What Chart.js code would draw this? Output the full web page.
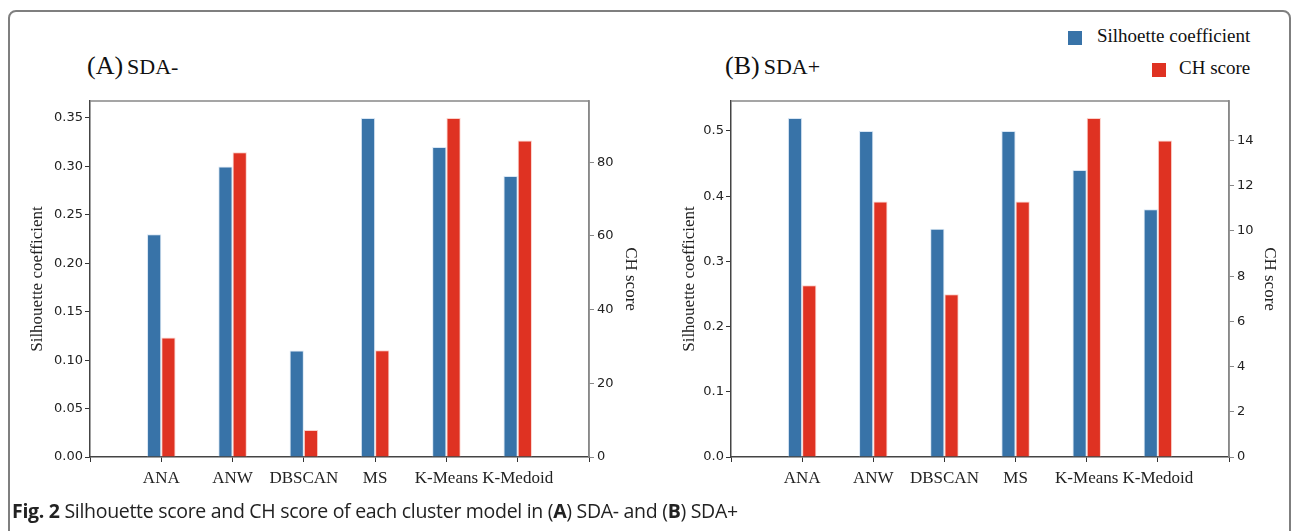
<!DOCTYPE html>
<html>
<head>
<meta charset="utf-8">
<script src="https://cdn.jsdelivr.net/npm/chart.js@4.4.1/dist/chart.umd.min.js"></script>
<style>
  body { margin: 0; width: 1292px; height: 531px; overflow: hidden; background: #fff; position: relative; }
  .frame { position: absolute; left: 8px; top: 10px; width: 1283px; height: 560px; border: 2px solid #7f7f7f; border-radius: 8px; box-sizing: border-box; }
  .wrap { position: absolute; top: 90px; height: 410px; }
  .ptitle { position: absolute; top: 51px; font-family: "Liberation Serif", serif; color: #111; white-space: nowrap; }
  .ptitle .big { font-size: 26px; }
  .ptitle .small { font-size: 22px; }
  .legend { position: absolute; font-family: "Liberation Serif", serif; font-size: 19px; color: #111; white-space: nowrap; }
  .legend i { position: absolute; width: 14px; height: 14px; }
  .caption { position: absolute; left: 12px; top: 497px; font-family: "Open Sans", sans-serif; font-size: 19.5px; color: #222; white-space: nowrap; letter-spacing: -0.3px; }
</style>
</head>
<body>
<div class="frame"></div>

<div class="ptitle" style="left:87px"><span class="big">(A)</span> <span class="small">SDA-</span></div>
<div class="ptitle" style="left:725px"><span class="big">(B)</span> <span class="small">SDA+</span></div>

<div class="legend" style="left:1097px;top:25px"><i style="left:-29px;top:6px;background:#3873a8"></i>Silhoette coefficient</div>
<div class="legend" style="left:1179px;top:57px"><i style="left:-27px;top:6px;background:#df3222"></i>CH score</div>

<div class="wrap" style="left:0;width:660px"><canvas id="chartA"></canvas></div>
<div class="wrap" style="left:640px;width:652px"><canvas id="chartB"></canvas></div>

<div class="caption"><b>Fig. 2</b> Silhouette score and CH score of each cluster model in (<b>A</b>) SDA- and (<b>B</b>) SDA+</div>

<script>
var categories = ['ANA', 'ANW', 'DBSCAN', 'MS', 'K-Means', 'K-Medoid'];

// (A) SDA-
var silA = [0.23, 0.30, 0.11, 0.35, 0.32, 0.29];
var chA = [32.4, 82.7, 7.3, 29.0, 92.0, 85.9];
var silTicksA = [0, 0.05, 0.10, 0.15, 0.20, 0.25, 0.30, 0.35];
var chTicksA = [0, 20, 40, 60, 80];

// (B) SDA+
var silB = [0.52, 0.50, 0.35, 0.50, 0.44, 0.38];
var chB = [7.6, 11.3, 7.2, 11.3, 15.0, 14.0];
var silTicksB = [0, 0.1, 0.2, 0.3, 0.4, 0.5];
var chTicksB = [0, 2, 4, 6, 8, 10, 12, 14];

var BLUE = '#3873a8';
var RED = '#df3222';

// empty slot on each side of the categories, like the original axes
function pad(arr, fill) {
  return [fill].concat(arr, [fill]);
}

// top and right spines of the matplotlib box
var boxPlugin = {
  id: 'box',
  afterDraw: function (chart) {
    var a = chart.chartArea, ctx = chart.ctx;
    ctx.save();
    ctx.strokeStyle = '#888';
    ctx.lineWidth = 1.5;
    ctx.beginPath();
    ctx.moveTo(a.left, a.top);
    ctx.lineTo(a.right, a.top);
    ctx.lineTo(a.right, a.bottom);
    ctx.stroke();
    ctx.restore();
  }
};

function makeChart(id, sil, ch, silTicks, silMax, digits, chTicks, chMax, w) {
  var tickFont = { family: 'DejaVu Sans', size: 13 };
  var titleFont = { family: 'Liberation Serif', size: 17 };
  return new Chart(document.getElementById(id), {
    type: 'bar',
    data: {
      labels: pad(categories, ''),
      datasets: [{
        label: 'Silhoette coefficient',
        data: pad(sil, null),
        backgroundColor: BLUE,
        borderColor: 'rgba(200,220,240,0.7)',
        borderWidth: 1,
        yAxisID: 'y',
        barPercentage: 1,
        categoryPercentage: 0.4
      }, {
        label: 'CH score',
        data: pad(ch, null),
        backgroundColor: RED,
        borderColor: 'rgba(250,190,180,0.7)',
        borderWidth: 1,
        yAxisID: 'y2',
        barPercentage: 1,
        categoryPercentage: 0.4
      }]
    },
    options: {
      responsive: true,
      maintainAspectRatio: false,
      animation: false,
      layout: { padding: { top: 11, left: 0, right: 0, bottom: 0 } },
      plugins: { legend: { display: false }, tooltip: { enabled: false } },
      scales: {
        x: {
          offset: false,
          grid: { display: true, drawOnChartArea: false, offset: false, tickLength: 5, color: '#333' },
          border: { display: true, color: '#444', width: 1.5 },
          ticks: { font: { family: 'Liberation Serif', size: 17 }, color: '#222', padding: 6, maxRotation: 0, autoSkip: false },
          afterFit: function (s) { s.height = 43; }
        },
        y: {
          position: 'left',
          min: 0,
          max: silMax,
          afterBuildTicks: function (s) { s.ticks = silTicks.map(function (v) { return { value: v }; }); },
          ticks: {
            font: tickFont, color: '#222', padding: 2,
            callback: function (v) { return Number(v).toFixed(digits); }
          },
          grid: { drawOnChartArea: false, tickLength: 5, color: '#333' },
          border: { display: true, color: '#444', width: 1.5 },
          title: { display: true, text: 'Silhouette coefficient', font: titleFont, color: '#222', padding: { top: w.lt, bottom: 0 } },
          afterFit: function (s) { s.width = w.left; }
        },
        y2: {
          position: 'right',
          min: 0,
          max: chMax,
          afterBuildTicks: function (s) { s.ticks = chTicks.map(function (v) { return { value: v }; }); },
          ticks: { font: tickFont, color: '#222', padding: 3 },
          grid: { drawOnChartArea: false, tickLength: 5, color: '#888' },
          border: { display: true, color: '#888', width: 1.5 },
          title: { display: true, text: 'CH score', font: titleFont, color: '#222', padding: { top: w.rt, bottom: 0 } },
          afterFit: function (s) { s.width = w.right; }
        }
      }
    },
    plugins: [boxPlugin]
  });
}

makeChart('chartA', silA, chA, silTicksA, 0.3675, 2, chTicksA, 96.6, { left: 90, right: 71, lt: 27, rt: 19 });
makeChart('chartB', silB, chB, silTicksB, 0.546, 1, chTicksB, 15.75, { left: 91, right: 63, lt: 39, rt: 12 });
</script>
</body>
</html>
